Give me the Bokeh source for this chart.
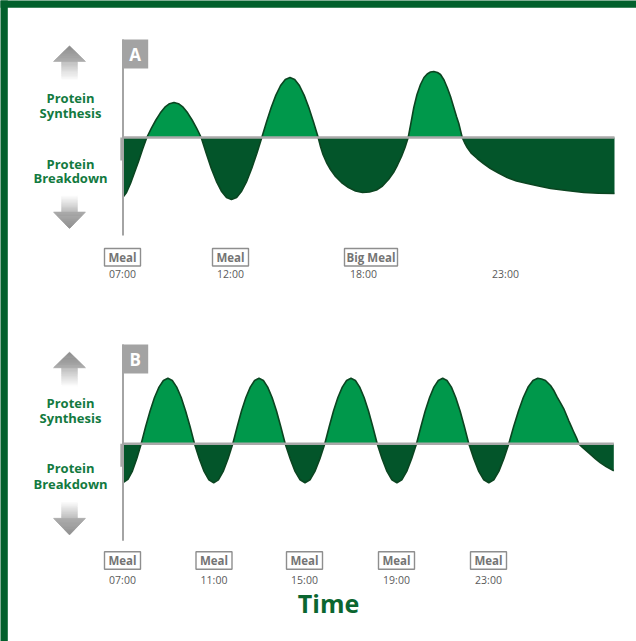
import numpy as np
from bokeh.plotting import figure
from bokeh.models import Range1d
from bokeh.core.properties import value
from bokeh.embed import file_html
from bokeh.resources import INLINE

# ---------------- data (x: time-axis position, y: net protein balance, arbitrary units) -------------
a_x = [1, 4, 8, 12, 16, 20, 24.3,
       28.8, 33.4, 37.9, 42.4, 47.0, 51.5, 56.0, 60.6, 65.1, 69.6, 74.2, 78.7,
       83.8, 88.8, 93.9, 98.9, 104.0, 109.0, 114.1, 119.1, 124.2, 129.2, 134.3, 139.3,
       144.0, 148.7, 153.4, 158.1, 162.8, 167.5, 172.2, 176.9, 181.6, 186.3, 191.0, 195.7,
       198, 200.5, 204, 208, 213, 219, 226, 233, 240, 247, 254, 260, 266, 271, 275, 279, 282.5, 285.7,
       288, 291.3, 294.5, 298, 301.5, 304.7, 308, 311.3, 315, 318, 321.5, 324.7, 328, 331.3, 334, 336.3, 339.7,
       342, 344.7, 349, 354.7, 361, 368, 376, 384.7, 394, 404.7, 416, 428, 444, 461.3, 476, 492]
a_y = [-59, -55, -46, -35, -24, -12, 0,
       9.1, 17.5, 24.7, 30.3, 33.8, 35, 33.8, 30.3, 24.7, 17.5, 9.1, 0,
       -16.0, -31, -43.8, -53.7, -59.9, -62, -59.9, -53.7, -43.8, -31, -16.0, 0,
       15.5, 30, 42.4, 52, 58, 60, 58, 52, 42.4, 30, 15.5, 0,
       -9, -17, -25, -32, -39, -45, -50, -53.5, -55, -54.5, -52.5, -48.5, -42, -35, -27.5, -19, -10, 0,
       12, 30, 43, 53, 60, 63.5, 65.5, 66, 65, 63, 57.5, 50, 41, 30, 21, 14, 0,
       -5, -10, -16, -21, -26, -31, -35.5, -40, -43.5, -46, -48.5, -51, -53, -55, -55.8, -56]
a_meal_x = [0, 108, 248.5]
a_meal_text = ["Meal", "Meal", "Big Meal"]
a_time_x = [0, 108, 241, 383]
a_time_text = ["07:00", "12:00", "18:00", "23:00"]

b_x = [1, 5.4, 9.9, 14.3, 18.7,
       23.1, 27.6, 32.0, 36.5, 40.9, 45.4, 49.8, 54.2, 58.7, 63.1, 67.6, 72.0,
       76.8, 81.6, 86.4, 91.2, 95.9, 100.7, 105.5, 110.3,
       114.7, 119.0, 123.4, 127.8, 132.1, 136.5, 140.9, 145.2, 149.6, 154.0, 158.3, 162.7,
       167.7, 172.6, 177.6, 182.5, 187.5, 192.4, 197.4, 202.3,
       206.7, 211.0, 215.4, 219.8, 224.1, 228.5, 232.9, 237.2, 241.6, 246.0, 250.3, 254.7,
       259.6, 264.5, 269.4, 274.4, 279.3, 284.2, 289.1, 294.0,
       298.4, 302.7, 307.1, 311.4, 315.8, 320.2, 324.5, 328.9, 333.2, 337.6, 341.9, 346.3,
       351.3, 356.3, 361.3, 366.3, 371.3, 376.3, 381.3, 386.3,
       391.1, 396.0, 400.8, 405.6, 410.5, 415.3, 419, 423, 428, 431.5, 434.7, 438, 441.3, 446.3, 449, 451.3, 454, 456.3,
       460, 464, 468, 473, 478, 484, 491.3]
b_y = [-38.5, -35.6, -27.2, -14.7, 0,
       17.0, 32.8, 46.3, 56.7, 63.3, 65.5, 63.3, 56.7, 46.3, 32.8, 17.0, 0,
       -14.9, -27.6, -36.0, -39, -36.0, -27.6, -14.9, 0,
       17.0, 32.8, 46.3, 56.7, 63.3, 65.5, 63.3, 56.7, 46.3, 32.8, 17.0, 0,
       -14.9, -27.6, -36.0, -39, -36.0, -27.6, -14.9, 0,
       17.0, 32.8, 46.3, 56.7, 63.3, 65.5, 63.3, 56.7, 46.3, 32.8, 17.0, 0,
       -14.9, -27.6, -36.0, -39, -36.0, -27.6, -14.9, 0,
       17.0, 32.8, 46.3, 56.7, 63.3, 65.5, 63.3, 56.7, 46.3, 32.8, 17.0, 0,
       -14.9, -27.6, -36.0, -39, -36.0, -27.6, -14.9, 0,
       17.0, 32.8, 46.3, 56.7, 63.3, 65.5, 64.8, 63.3, 58.3, 53, 46.6, 41, 35, 23, 17, 11.6, 6, 0,
       -3.5, -7, -10.5, -15, -19, -23, -27]
b_meal_x = [0, 91.5, 182, 274, 366]
b_meal_text = ["Meal", "Meal", "Meal", "Meal", "Meal"]
b_time_x = [0, 91.5, 182, 274, 366]
b_time_text = ["07:00", "11:00", "15:00", "19:00", "23:00"]

side_labels = ["Protein", "Synthesis", "Protein", "Breakdown"]

# ---------------- styles -------------
LIGHT = "#00984b"
DARK = "#03552a"
OUTLINE = "#0b4521"
GRAY_LINE = "#a9a9a9"
LABEL_GREEN = "#137a3f"
FRAME_GREEN = "#02602c"
FONT = "Open Sans"
W, H = 636, 641
X0 = -122   # left edge of the page in time-axis units


def hexmix(c1, c2, t):
    a = [int(c1[i:i + 2], 16) for i in (1, 3, 5)]
    b = [int(c2[i:i + 2], 16) for i in (1, 3, 5)]
    return "#%02x%02x%02x" % tuple(round(a[k] + (b[k] - a[k]) * t) for k in range(3))


def gradient_arrow(p, rn, cx, y_end, y_neck, y_tip, c_end, c_neck, c_head, c_tip):
    xs, ys, cols = [], [], []
    hw_s, hw_h = 7.8, 16.0
    d = 1 if y_tip > y_end else -1
    n = int(round(abs(y_neck - y_end)))
    for i in range(n):
        y0 = y_end + d * abs(y_neck - y_end) * i / n
        y1 = y_end + d * abs(y_neck - y_end) * (i + 1) / n
        xs.append([cx - hw_s, cx + hw_s, cx + hw_s, cx - hw_s])
        ys.append([y0, y0, y1, y1])
        cols.append(hexmix(c_end, c_neck, (i + 0.5) / n))
    m = int(round(abs(y_tip - y_neck)))
    for i in range(m):
        t0, t1 = i / m, (i + 1) / m
        y0 = y_neck + (y_tip - y_neck) * t0
        y1 = y_neck + (y_tip - y_neck) * t1
        h0, h1 = hw_h * (1 - t0), hw_h * (1 - t1)
        xs.append([cx - h0, cx + h0, cx + h1, cx - h1])
        ys.append([y0, y0, y1, y1])
        cols.append(hexmix(c_head, c_tip, (i + 0.5) / m))
    p.patches(xs, ys, fill_color=cols, line_color=cols, line_width=0.6, y_range_name=rn)


def panel(p, rn, letter, xs, ys, meal_x, meal_text, time_x, time_text,
          axis_lo, axis_hi, meal_y, time_y, label_y, title=False):
    xa = np.array(xs, dtype=float)
    ya = np.array(ys, dtype=float)
    p.varea(x=xa, y1=0, y2=np.maximum(ya, 0), fill_color=LIGHT, y_range_name=rn)
    p.varea(x=xa, y1=np.minimum(ya, 0), y2=0, fill_color=DARK, y_range_name=rn)
    p.line(xa, ya, line_color=OUTLINE, line_width=1.6, y_range_name=rn)
    # baseline
    p.segment(x0=[0], y0=[0], x1=[xa[-1]], y1=[0], line_color=GRAY_LINE, line_width=2.6, y_range_name=rn)
    # vertical axis
    p.segment(x0=[0.5], y0=[axis_lo], x1=[0.5], y1=[axis_hi], line_color="#a4a4a4", line_width=2,
              y_range_name=rn)
    p.quad(left=[-2.2], right=[0], top=[0], bottom=[-23], fill_color="#a8a8a8", line_color=None,
           y_range_name=rn)
    # letter box
    p.quad(left=[-0.3], right=[25.7], top=[axis_hi], bottom=[axis_hi - 29], fill_color="#a3a3a3",
           line_color=None, y_range_name=rn)
    p.text(x=[12.7], y=[axis_hi - 14.5], text=[letter], text_color="white", text_font=value(FONT),
           text_font_style="bold", text_font_size="17px", text_align="center", text_baseline="middle",
           y_range_name=rn)
    # side arrows + labels
    gradient_arrow(p, rn, -53, 57.5, 76, 91.5, "#ffffff", "#bdbdbd", "#acacac", "#8c8c8c")
    gradient_arrow(p, rn, -53, -58, -74.5, -91, "#ffffff", "#bdbdbd", "#acacac", "#8c8c8c")
    p.text(x=[-52] * 4, y=label_y, text=side_labels, text_color=LABEL_GREEN, text_font=value(FONT),
           text_font_style="bold", text_font_size="13px", text_align="center", text_baseline="middle",
           y_range_name=rn)
    # meal boxes and times
    widths = [53 if t == "Big Meal" else 36 for t in meal_text]
    p.rect(x=meal_x, y=[meal_y] * len(meal_x), width=widths, height=17.5, width_units="screen",
           height_units="screen", fill_color="white", line_color="#8e8e8e", line_width=1.4, y_range_name=rn)
    p.text(x=meal_x, y=[meal_y] * len(meal_x), text=meal_text, text_color="#747474", text_font=value(FONT),
           text_font_style="bold", text_font_size="11.5px", text_align="center", text_baseline="middle",
           y_range_name=rn)
    p.text(x=time_x, y=[time_y] * len(time_x), text=time_text, text_color="#5a5a5a", text_font=value(FONT),
           text_font_size="10.5px", text_align="center", text_baseline="middle", y_range_name=rn)
    if title:
        p.text(x=[206], y=[-159.5], text=["Time"], text_color="#0b6630", text_font=value(FONT),
               text_font_style="bold", text_font_size="25px", text_align="center", text_baseline="middle",
               y_range_name=rn)


# panel A uses the default y range (baseline 137 px below top), panel B its own range
p = figure(width=W, height=H, x_range=Range1d(X0, X0 + W), y_range=Range1d(137 - H, 137),
           output_backend="svg", toolbar_location=None, x_axis_location=None,
           y_axis_location=None, min_border=0, outline_line_color=None,
           background_fill_color="white", border_fill_color="white")
p.extra_y_ranges = {"b": Range1d(443.3 - H, 443.3)}
p.grid.visible = False

# frame border (left and top)
p.quad(left=[X0 - 5], right=[X0 + 7.3], top=[142], bottom=[137 - H - 5],
       fill_color=FRAME_GREEN, line_color=None)
p.quad(left=[X0 - 5], right=[X0 + W + 5], top=[142], bottom=[137 - 7.3],
       fill_color=FRAME_GREEN, line_color=None)

panel(p, "default", "A", a_x, a_y, a_meal_x, a_meal_text, a_time_x, a_time_text,
      -98, 98, -119.7, -136.3, [40, 25, -26, -40])
panel(p, "b", "B", b_x, b_y, b_meal_x, b_meal_text, b_time_x, b_time_text,
      -97, 99.3, -116.7, -136, [41.3, 26.3, -23.7, -39.7], title=True)

open("out.html", "w").write(file_html(p, INLINE))
